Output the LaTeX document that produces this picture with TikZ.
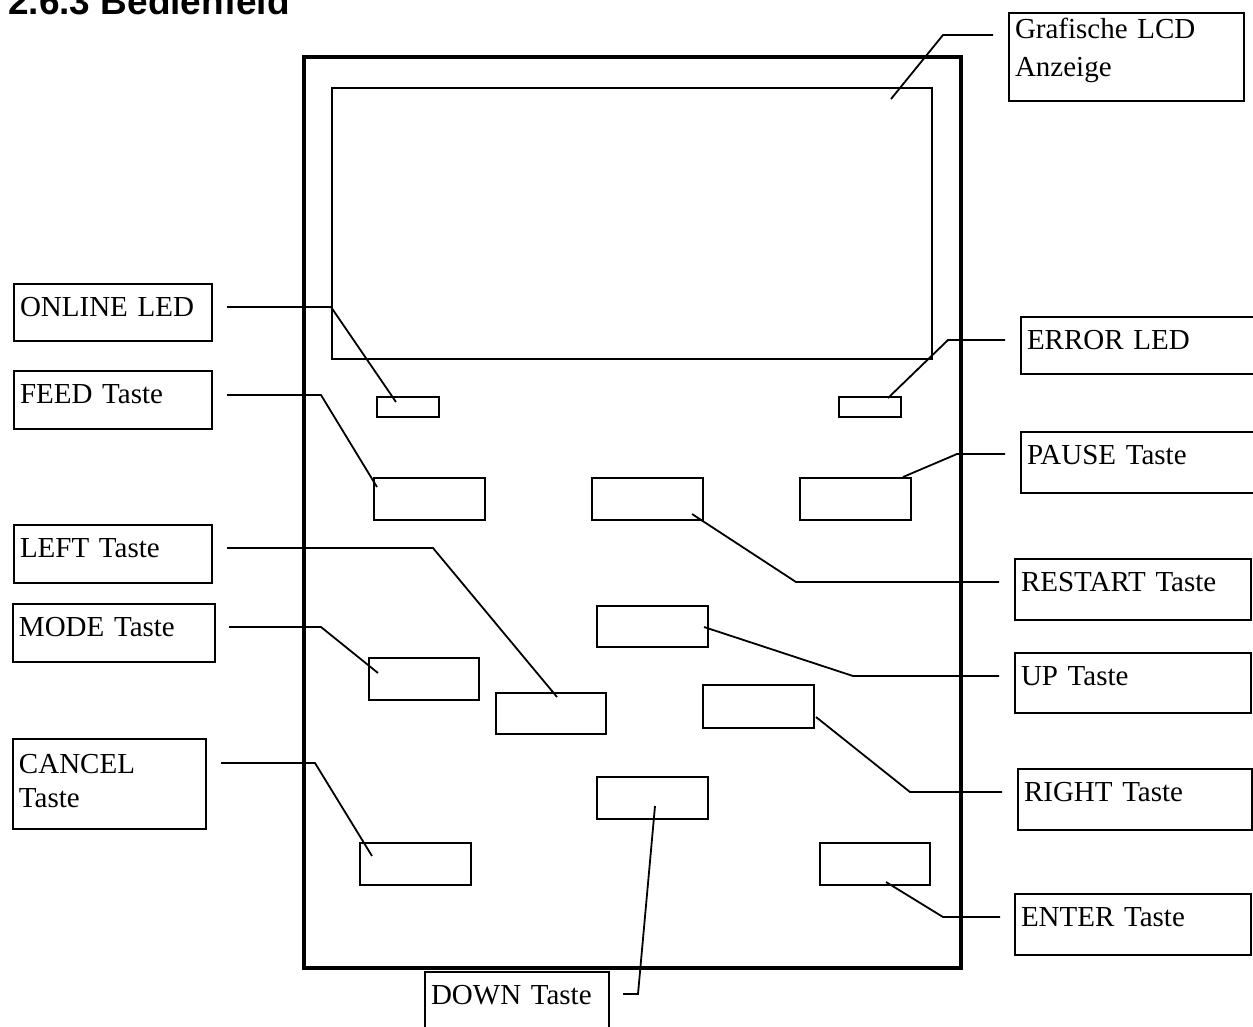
\documentclass[tikz,border=0pt]{standalone}
\usepackage{fontspec}
\setmainfont{Liberation Serif}
\newfontfamily\titlefont{Liberation Sans}
\begin{document}
\begin{tikzpicture}[x=1pt,y=-1pt,
  lbox/.style={draw, line width=2pt, anchor=north west, inner xsep=6pt, inner ysep=0pt,
    align=left, font=\fontsize{29}{35}\selectfont, text height=32pt},
  btn/.style={draw, line width=2pt, anchor=north west, inner sep=0pt},
  conn/.style={line width=1.8pt, line join=miter}
]
\clip (0,0) rectangle (1253,1026);
\fill[white] (0,0) rectangle (1253,1026);

% title
\node[anchor=base west, inner sep=0pt, font=\titlefont\bfseries\fontsize{37}{40}\selectfont] (title) at (8,14) {2.6.3 Bedienfeld};

% panel and display
\node[draw, line width=3.5pt, anchor=north west, inner sep=0pt, minimum width=657pt, minimum height=911pt] (panel) at (302,55) {};
\node[btn, minimum width=600pt, minimum height=271pt] (lcd) at (331,87) {};

% LEDs and keys
\node[btn, minimum width=62pt, minimum height=20pt] (onled) at (376,396) {};
\node[btn, minimum width=62pt, minimum height=20pt] (errled) at (838,396) {};
\node[btn, minimum width=111pt, minimum height=42pt] (feedb) at (373,477) {};
\node[btn, minimum width=111pt, minimum height=42pt] (restartb) at (591,477) {};
\node[btn, minimum width=111pt, minimum height=42pt] (pauseb) at (799,477) {};
\node[btn, minimum width=111pt, minimum height=41pt] (upb) at (596,605) {};
\node[btn, minimum width=110pt, minimum height=42pt] (modeb) at (368,657) {};
\node[btn, minimum width=110pt, minimum height=41pt] (leftb) at (495,692) {};
\node[btn, minimum width=111pt, minimum height=43pt] (rightb) at (702,684) {};
\node[btn, minimum width=111pt, minimum height=42pt] (downb) at (596,776) {};
\node[btn, minimum width=111pt, minimum height=42pt] (cancelb) at (359,842) {};
\node[btn, minimum width=110pt, minimum height=42pt] (enterb) at (819,842) {};

% label boxes
\node[lbox, text width=223pt, text height=25pt, text depth=63pt] (lcdl) at (1008,12) {Grafische LCD\\[3pt]Anzeige};
\node[lbox, text width=186pt, text depth=25pt] (onlinel) at (13,283) {ONLINE LED};
\node[lbox, text width=186pt, text depth=26pt] (feedl) at (13,370) {FEED Taste};
\node[lbox, text width=186pt, text depth=26pt] (leftl) at (13,524) {LEFT Taste};
\node[lbox, text width=190pt, text depth=26pt] (model) at (12,603) {MODE Taste};
\node[lbox, text width=181pt, text height=34pt, text depth=56pt] (cancell) at (12,738) {CANCEL\\[-1pt]Taste};
\node[lbox, text width=240pt, text depth=25pt] (errorl) at (1020,316) {ERROR LED};
\node[lbox, text width=240pt, text depth=29pt] (pausel) at (1020,431) {PAUSE Taste};
\node[lbox, text width=224pt, text depth=29pt] (restartl) at (1014,558) {RESTART Taste};
\node[lbox, text width=224pt, text depth=28pt] (upl) at (1014,652) {UP Taste};
\node[lbox, text width=222pt, text depth=29pt] (rightl) at (1017,768) {RIGHT Taste};
\node[lbox, text width=224pt, text depth=29pt] (enterl) at (1014,893) {ENTER Taste};
\node[lbox, text width=172pt, text depth=60pt] (downl) at (424,971) {DOWN Taste};

% connector end points
\coordinate (lcdS) at (993,35);    \coordinate (lcdE) at (891,99);
\coordinate (onS) at (227,307);    \coordinate (onE) at (396,402);
\coordinate (feedS) at (227,395);  \coordinate (feedE) at (377,487);
\coordinate (leftS) at (227,548);  \coordinate (leftE) at (557,697);
\coordinate (modeS) at (229,627);  \coordinate (modeE) at (378,673);
\coordinate (cancS) at (221,763);  \coordinate (cancE) at (372,856);
\coordinate (errS) at (1005,340);  \coordinate (errE) at (888,398);
\coordinate (pauS) at (1005,454);  \coordinate (pauE) at (903,477);
\coordinate (resS) at (999,582);   \coordinate (resE) at (692,514);
\coordinate (upS) at (999,676);    \coordinate (upE) at (704,627);
\coordinate (rigS) at (1002,792);  \coordinate (rigE) at (816,717);
\coordinate (entS) at (1000,917);  \coordinate (entE) at (886,882);
\coordinate (dowS) at (623,994);   \coordinate (dowE) at (655,806);

% connectors
\draw[conn] (lcdS) -- (943,35) -- (lcdE);
\draw[conn] (onS) -- (331,307) -- (onE);
\draw[conn] (feedS) -- (321,395) -- (feedE);
\draw[conn] (leftS) -- (433,548) -- (leftE);
\draw[conn] (modeS) -- (321,627) -- (modeE);
\draw[conn] (cancS) -- (315,763) -- (cancE);
\draw[conn] (errS) -- (948,340) -- (errE);
\draw[conn] (pauS) -- (957,454) -- (pauE);
\draw[conn] (resS) -- (796,582) -- (resE);
\draw[conn] (upS) -- (853,676) -- (upE);
\draw[conn] (rigS) -- (910,792) -- (rigE);
\draw[conn] (entS) -- (943,917) -- (entE);
\draw[conn] (dowS) -- (638,994) -- (dowE);
\end{tikzpicture}
\end{document}
